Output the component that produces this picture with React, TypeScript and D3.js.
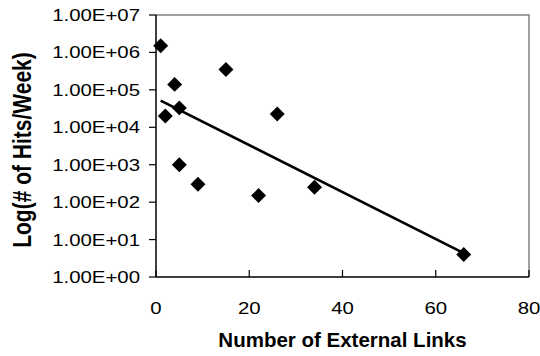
import { scaleLinear, scaleLog, line as d3line, symbol, symbolSquare, min as d3min, max as d3max, mean } from 'd3';

// Number of external links vs hits per week
const LINKS = [1, 2, 4, 5, 5, 9, 15, 22, 26, 34, 66];
const HITS = [1.5e6, 2e4, 1.4e5, 3.3e4, 1000, 300, 3.5e5, 150, 2.25e4, 250, 4];

const X_TICKS = [0, 20, 40, 60, 80];
const Y_TICKS = [1, 1e1, 1e2, 1e3, 1e4, 1e5, 1e6, 1e7];
const Y_TICK_LABELS = ['1.00E+00', '1.00E+01', '1.00E+02', '1.00E+03', '1.00E+04', '1.00E+05', '1.00E+06', '1.00E+07'];

const W = 540;
const H = 356;
const M = { top: 15, right: 11, bottom: 79, left: 156 };
const FONT = '"Liberation Sans", Arial, sans-serif';

export default function App() {
  const x = scaleLinear().domain([0, 80]).range([M.left, W - M.right]);
  const y = scaleLog().domain([1, 1e7]).range([H - M.bottom, M.top]);

  // exponential trendline: least squares on log10(hits)
  const ly = HITS.map((h) => Math.log10(h));
  const mx = mean(LINKS) ?? 0;
  const my = mean(ly) ?? 0;
  let sxy = 0;
  let sxx = 0;
  LINKS.forEach((v, i) => {
    sxy += (v - mx) * (ly[i] - my);
    sxx += (v - mx) * (v - mx);
  });
  const slope = sxy / sxx;
  const icpt = my - slope * mx;
  const x0 = d3min(LINKS) ?? 0;
  const x1 = d3max(LINKS) ?? 0;
  const trend = d3line<number>()
    .x((d) => x(d))
    .y((d) => y(Math.pow(10, icpt + slope * d)))([x0, x1]);

  const diamond = symbol(symbolSquare, 112)() ?? '';
  const [xl, xr] = x.range();
  const [yb, yt] = y.range();

  return (
    <svg width={W} height={H} style={{ position: 'absolute', left: 0, top: 0, background: '#fff' }}>
      {/* plot area border */}
      <path d={`M${xl},${yt}H${xr}V${yb}`} fill="none" stroke="#808080" strokeWidth={1.5} />
      {/* y axis */}
      <line x1={xl} x2={xl} y1={yt} y2={yb} stroke="#000" strokeWidth={1.5} />
      {Y_TICKS.map((t, i) => (
        <g key={t}>
          <line x1={xl - 7} x2={xl} y1={y(t)} y2={y(t)} stroke="#000" strokeWidth={1.2} />
          <text
            transform={`translate(${xl - 16},${y(t) + 6}) scale(1.2,1)`}
            textAnchor="end"
            fontFamily={FONT}
            fontSize={17}
            fill="#000"
          >
            {Y_TICK_LABELS[i]}
          </text>
        </g>
      ))}
      {/* x axis */}
      <line x1={xl} x2={xr} y1={yb} y2={yb} stroke="#000" strokeWidth={1.5} />
      {X_TICKS.map((t) => (
        <g key={t}>
          <line x1={x(t)} x2={x(t)} y1={yb - 7} y2={yb} stroke="#000" strokeWidth={1.2} />
          <text
            transform={`translate(${x(t)},${yb + 36.5}) scale(1.2,1)`}
            textAnchor="middle"
            fontFamily={FONT}
            fontSize={17}
            fill="#000"
          >
            {t}
          </text>
        </g>
      ))}
      {/* points */}
      {LINKS.map((v, i) => (
        <path key={i} d={diamond} transform={`translate(${x(v)},${y(HITS[i])}) rotate(45)`} fill="#000" />
      ))}
      <path d={trend ?? ''} fill="none" stroke="#000" strokeWidth={2.6} />
      {/* titles */}
      <text
        x={(xl + xr) / 2}
        y={347}
        textAnchor="middle"
        fontFamily={FONT}
        fontSize={20.5}
        fontWeight="bold"
        fill="#000"
      >
        Number of External Links
      </text>
      <text
        transform={`translate(31,150) scale(1.2,1) rotate(-90)`}
        textAnchor="middle"
        fontFamily={FONT}
        fontSize={21}
        fontWeight="bold"
        fill="#000"
      >
        Log(# of Hits/Week)
      </text>
    </svg>
  );
}
